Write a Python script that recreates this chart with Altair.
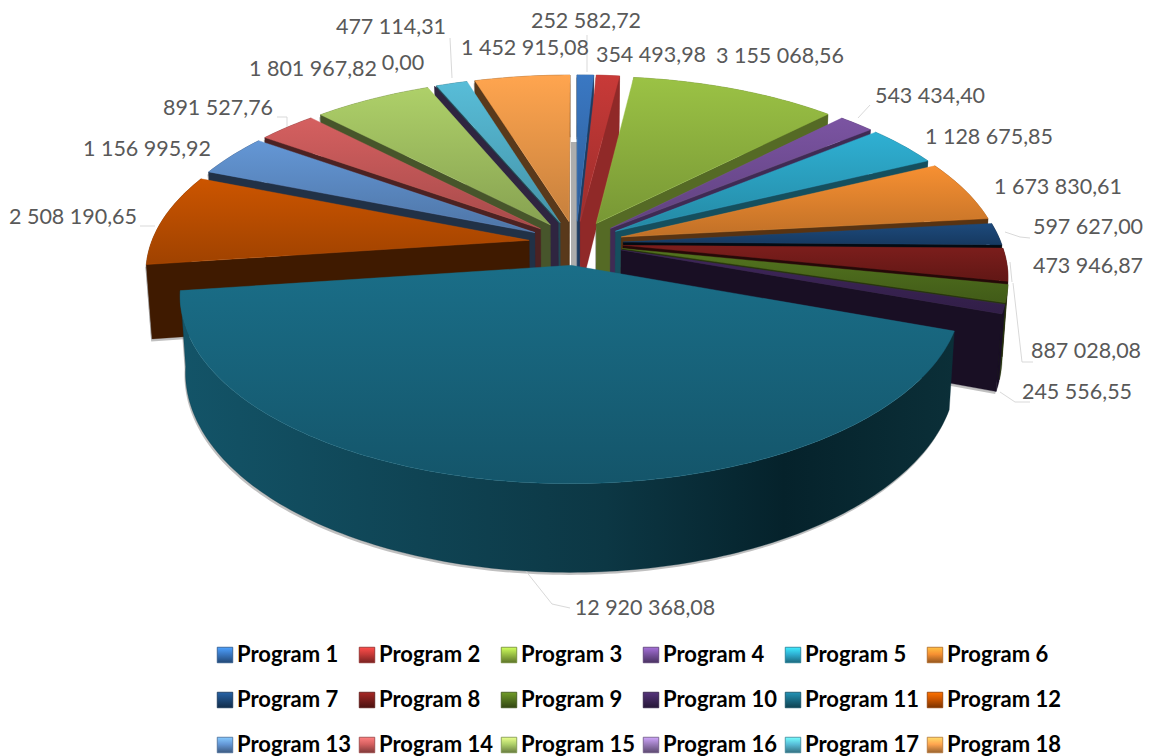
import math
import altair as alt
import pandas as pd

programs = [f"Program {i}" for i in range(1, 19)]
values = [252582.72, 354493.98, 3155068.56, 543434.40, 1128675.85, 1673830.61,
          597627.00, 887028.08, 473946.87, 245556.55, 12920368.08, 2508190.65,
          1156995.92, 891527.76, 1801967.82, 0.00, 477114.31, 1452915.08]
colors = ["#3a78c3", "#c83a38", "#9bc245", "#7b54a2", "#2fb0d3", "#f79032",
          "#1d4a7c", "#7d1e1c", "#54751f", "#40275c", "#1a6e88", "#cc5500",
          "#6497d6", "#d56060", "#aed069", "#9a7bbb", "#58bdd8", "#ffa54f"]
face_factor = [0.5, 0.72, 0.55, 0.52, 0.45, 0.36, 0.15, 0.3, 0.45, 0.4, 0.4, 0.31,
               0.33, 0.36, 0.41, 0.4, 0.4, 0.35]
label_x = [586, 651, 780, 930, 989, 1058, 1088, 1086, 1088, 1077, 645, 73, 147, 218, 313, 403, 391, 525]
label_y = [22, 56, 57, 97, 138, 188, 228, 352, 267, 393, 609, 218, 150, 109, 70, 64, 28, 49]
leaders = [
    [(525, 570), (552, 604), (570, 608)],
    [(1000, 392), (1015, 402), (1030, 402)],
    [(1013, 283), (1022, 362), (1033, 362)],
    [(1005, 232), (1020, 237), (1030, 238)],
    [(1010, 262), (1012, 282)],
    [(140, 226), (155, 226)],
    [(277, 117), (287, 117), (287, 128)],
    [(450, 38), (452, 78)],
    [(587, 35), (587, 72)],
    [(858, 118), (870, 105)],
]
legend_cols = [217, 359, 501, 643, 785, 927]
legend_rows = [655, 700, 745]

CX, CY, A, B, K, DZ, EXPLODE = 576, 243, 176, 378, 0.158, 73, 0.125
total = sum(values)


def mult(c, f):
    r = [int(c[i:i + 2], 16) for i in (1, 3, 5)]
    return "#%02x%02x%02x" % tuple(min(255, int(v * f)) for v in r)


def pt(X, Y, z=0.0):
    s = 1 / (1 - K * Y)
    return [CX + B * X * s * (1 - 0.0135 * z), CY + (A * Y + DZ * z) * s]


def feature(coords, closed=True):
    if closed:
        return {"type": "Feature", "properties": {},
                "geometry": {"type": "Polygon", "coordinates": [coords + [coords[0]]]}}
    return {"type": "Feature", "properties": {},
            "geometry": {"type": "LineString", "coordinates": coords}}


def grad(stops, horizontal=False):
    return alt.Gradient(gradient="linear", x1=0, y1=0,
                        x2=1 if horizontal else 0, y2=0 if horizontal else 1,
                        stops=[alt.GradientStop(color=c, offset=o) for o, c in stops])


def shape(coords, fill=None, closed=True, **kw):
    if closed:
        m = alt.Chart(alt.Data(values=[feature(coords)])).mark_geoshape(fill=fill, **kw)
    else:
        m = alt.Chart(alt.Data(values=[feature(coords, False)])).mark_geoshape(filled=False, **kw)
    return m.project(type="identity", scale=1, translate=[-8, -8])


slices = []
cum = 0.0
for i, v in enumerate(values):
    t0 = cum / total * 2 * math.pi
    cum += v
    t1 = cum / total * 2 * math.pi
    slices.append((i, t0, t1, (t0 + t1) / 2))
slices.sort(key=lambda s: -math.cos(s[3]))


def build(i, t0, t1, mid):
    ex, ey = EXPLODE * math.sin(mid), -EXPLODE * math.cos(mid)
    n = max(2, int((t1 - t0) / math.radians(1)))
    angs = [t0 + (t1 - t0) * j / n for j in range(n + 1)]
    rim = lambda a, z=0.0: pt(ex + math.sin(a), ey - math.cos(a), z)
    top = [pt(ex, ey)] + [rim(a) for a in angs]
    wall = [rim(a) for a in angs] + [rim(a, 1) for a in reversed(angs)]
    faces = []
    third = rim(mid)
    apex, apex_b = pt(ex, ey), pt(ex, ey, 1)
    for a in (t0, t1):
        r = rim(a)
        ed = (r[0] - apex[0], r[1] - apex[1])
        c1 = ed[0] * (third[1] - apex[1]) - ed[1] * (third[0] - apex[0])
        c2 = ed[0]
        if c1 * c2 < 0 or (values[i] == 0 and a == t0):
            faces.append([apex, r, rim(a, 1), apex_b])
    return top, wall, faces


layers = []
geom = [(s, build(*s)) for s in slices]

for s, (top, wall, faces) in geom:
    if values[s[0]] == 0:
        continue
    shifted = lambda poly: [[p[0] - 1, p[1] + 2.5] for p in poly]
    layers.append(shape(shifted(wall), fill="#8c8c8c", opacity=0.55))
    for f in faces:
        layers.append(shape(shifted(f), fill="#8c8c8c", opacity=0.55))

layers.append(
    alt.Chart(alt.Data(values=[{}])).mark_rect(color="#adadad").encode(
        x=alt.value(563), x2=alt.value(570), y=alt.value(134), y2=alt.value(259))
)

for line in leaders:
    layers.append(shape([list(p) for p in line], closed=False, stroke="#d9d9d9", strokeWidth=1))

for s, (top, wall, faces) in geom:
    i = s[0]
    col = colors[i]
    dark = mult(col, face_factor[i])
    if values[i] == 0:
        dark = "#2f2540"
    elif i == 10:
        layers.append(shape(wall, fill=grad([(0, "#135468"), (0.55, "#0c3744"), (0.78, "#05222b"), (1, "#0b2f38")], True),
                            stroke="#0a3340", strokeWidth=0.3))
    else:
        layers.append(shape(wall, fill=dark, stroke=dark, strokeWidth=0.3))
    for f in faces:
        layers.append(shape(f, fill=dark, stroke=dark, strokeWidth=0.3))
    if values[i] > 0:
        layers.append(shape(top, fill=grad([(0, col), (1, mult(col, 0.78))]),
                            stroke=col, strokeWidth=0.4))


def fmt(v):
    whole, dec = f"{v:.2f}".split(".")
    parts = []
    while len(whole) > 3:
        parts.insert(0, whole[-3:])
        whole = whole[:-3]
    parts.insert(0, whole)
    return " ".join(parts) + "," + dec


labels = pd.DataFrame({"t": [fmt(v) for v in values],
                       "x": [x - 8 for x in label_x],
                       "y": [y - 8 for y in label_y]})
layers.append(
    alt.Chart(labels).mark_text(font="Lato", fontSize=21.5, color="#595959", align="center", baseline="middle")
    .encode(x=alt.X("x:Q", scale=None), y=alt.Y("y:Q", scale=None), text="t:N")
)

for i, name in enumerate(programs):
    r, c = divmod(i, 6)
    col = colors[i]
    d = pd.DataFrame({"x": [legend_cols[c]], "y": [legend_rows[r] - 8], "tx": [legend_cols[c] + 12], "t": [name]})
    layers.append(
        alt.Chart(d).mark_square(size=240, opacity=1,
                                 fill=grad([(0, mult(col, 1.35)), (0.45, col), (1, mult(col, 0.6))]),
                                 stroke=mult(col, 0.7), strokeWidth=0.8)
        .encode(x=alt.X("x:Q", scale=None), y=alt.Y("y:Q", scale=None))
    )
    layers.append(
        alt.Chart(d).mark_text(font="Lato", fontWeight="bold", fontSize=22, color="#000000", align="left", baseline="middle")
        .encode(x=alt.X("tx:Q", scale=None), y=alt.Y("y:Q", scale=None), text="t:N")
    )

chart = (
    alt.layer(*layers)
    .properties(width=1137, height=748, padding=0, autosize=alt.AutoSizeParams(type="none"))
    .configure_view(stroke=None)
)
chart.save("out.html", embed_options={"renderer": "svg", "actions": False})
